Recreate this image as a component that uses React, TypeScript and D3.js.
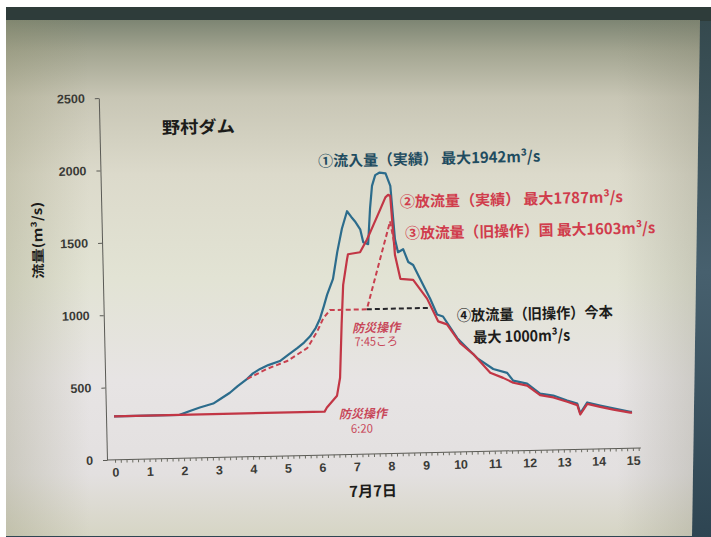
import { useEffect, useRef } from "react";
import * as d3 from "d3";

const W = 711;
const H = 537;

// 7月7日 hours and flow (m3/s)
const inflowHours = [0, 1.9, 2.2, 2.49, 2.88, 3.1, 3.37, 3.6, 3.88, 4.05, 4.26, 4.5, 4.84, 5.1, 5.35, 5.55, 5.73, 5.9, 6.03, 6.15, 6.25, 6.43, 6.57, 6.72, 6.88, 7.0, 7.1, 7.25, 7.33, 7.47, 7.55, 7.62, 7.72, 7.85, 8.02, 8.15, 8.25, 8.33, 8.48, 8.62, 8.76, 8.95, 9.23, 9.42, 9.59, 9.99, 10.35, 10.55, 11.01, 11.41, 11.58, 11.98, 12.35, 12.73, 13.13, 13.42, 13.5, 13.71, 14.08, 14.46, 14.95, 15.0];
const inflowValues = [300, 300, 325, 348, 373, 405, 445, 490, 538, 575, 605, 630, 656, 700, 742, 780, 822, 880, 944, 1030, 1107, 1215, 1399, 1560, 1680, 1640, 1610, 1553, 1463, 1449, 1700, 1851, 1925, 1942, 1935, 1848, 1479, 1389, 1409, 1320, 1298, 1202, 1063, 953, 938, 786, 695, 646, 568, 539, 484, 461, 391, 375, 339, 316, 248, 322, 299, 277, 250, 250];

const outflowHours = [0, 6.1, 6.17, 6.47, 6.57, 6.65, 6.72, 6.85, 6.88, 7.23, 7.44, 7.63, 7.84, 8.0, 8.08, 8.14, 8.18, 8.24, 8.38, 8.75, 9.14, 9.45, 9.7, 10.07, 10.44, 10.92, 11.29, 11.58, 11.98, 12.35, 12.73, 13.13, 13.42, 13.5, 13.71, 14.08, 14.46, 14.95, 15.0];
const outflowValues = [300, 300, 328, 408, 531, 900, 1172, 1349, 1383, 1395, 1482, 1578, 1686, 1770, 1787, 1780, 1615, 1370, 1205, 1196, 1064, 905, 883, 751, 674, 542, 505, 470, 448, 380, 362, 330, 305, 240, 312, 290, 268, 245, 245];

// ③ 旧操作(国)
const kuniHours = [3.88, 4.46, 5.05, 5.64, 5.94, 6.12, 6.32, 7.39, 8.12, 8.27];
const kuniValues = [538, 604, 655, 741, 855, 943, 1000, 1000, 1603, 1390];

// ④ 旧操作(今本)
const imamotoHours = [7.39, 9.18];
const imamotoValues = [1000, 1000];

const xTicks = d3.range(0, 16);
const xMinorTicks = d3.range(0, 15 * 6 + 2).map((i) => i / 6);
const yTicks = [0, 500, 1000, 1500, 2000, 2500];

const JP = "'Noto Sans CJK JP', 'Noto Sans', sans-serif";

const App = () => {
  const ref = useRef(null);

  useEffect(() => {
    const svg = d3.select(ref.current);
    svg.selectAll("*").remove();

    const defs = svg.append("defs");
    const bg = defs.append("linearGradient").attr("id", "bg").attr("x1", 0).attr("y1", 0).attr("x2", 0).attr("y2", 1);
    [
      [0, "#7d8573"],
      [0.06, "#a3a591"],
      [0.15, "#c8c6b5"],
      [0.3, "#dcdacb"],
      [0.5, "#e2e3d4"],
      [0.7, "#e7e4e4"],
      [0.88, "#e3e0e0"],
      [1, "#d6d5c4"],
    ].forEach(([o, c]) => bg.append("stop").attr("offset", o).attr("stop-color", c));

    const side = defs.append("linearGradient").attr("id", "side").attr("x1", 0).attr("y1", 0).attr("x2", 1).attr("y2", 0);
    side.append("stop").attr("offset", 0).attr("stop-color", "#8c8c68").attr("stop-opacity", 0.28);
    side.append("stop").attr("offset", 0.12).attr("stop-color", "#8c8c68").attr("stop-opacity", 0);
    side.append("stop").attr("offset", 0.88).attr("stop-color", "#7a7a66").attr("stop-opacity", 0);
    side.append("stop").attr("offset", 1).attr("stop-color", "#7a7a66").attr("stop-opacity", 0.25);

    const bar = defs.append("linearGradient").attr("id", "bar").attr("x1", 0).attr("y1", 0).attr("x2", 0).attr("y2", 1);
    bar.append("stop").attr("offset", 0).attr("stop-color", "#34484c");
    bar.append("stop").attr("offset", 0.5).attr("stop-color", "#47606e");
    bar.append("stop").attr("offset", 1).attr("stop-color", "#2e4552");

    // photo frame
    svg.append("rect").attr("width", W).attr("height", H).attr("fill", "#ffffff");
    svg.append("rect").attr("x", 6).attr("y", 7).attr("width", W - 6).attr("height", H - 7).attr("fill", "url(#bar)");
    svg.append("rect").attr("x", 6).attr("y", 7).attr("width", W - 6).attr("height", 14).attr("fill", "#2e3c3a");
    const slide = "M6,20 L700,20 L692,536 L6,536 Z";
    svg.append("path").attr("d", slide).attr("fill", "url(#bg)");
    svg.append("path").attr("d", slide).attr("fill", "url(#side)");

    // chart (photo is slightly tilted)
    const ox = 107;
    const oy = 460;
    const g = svg.append("g").attr("transform", `rotate(-1.3, ${ox}, ${oy})`);

    const x = d3.scaleLinear().domain([0, 15]).range([115, 633]);
    const y = d3.scaleLinear().domain([0, 2500]).range([oy, 98]);

    // y axis
    const yAxis = g
      .append("g")
      .attr("transform", `translate(${ox},0)`)
      .call(
        d3
          .axisLeft(y)
          .tickValues(yTicks)
          .tickSize(4)
          .tickSizeOuter(0)
          .tickPadding(10)
          .tickFormat(d3.format("d"))
      );
    yAxis.select(".domain").attr("stroke", "#5a5a55");
    yAxis.selectAll(".tick line").attr("stroke", "#5a5a55");
    yAxis
      .selectAll("text")
      .attr("fill", "#3a3a36")
      .style("font-family", "'Liberation Sans', Arial, sans-serif")
      .style("font-weight", "bold")
      .style("font-size", "12.5px");

    // x axis
    g.append("line")
      .attr("x1", ox)
      .attr("x2", x(15.23))
      .attr("y1", oy)
      .attr("y2", oy)
      .attr("stroke", "#5a5a55");
    const xMinor = g
      .append("g")
      .attr("transform", `translate(0,${oy})`)
      .call(d3.axisBottom(x).tickValues(xMinorTicks).tickSize(3).tickFormat(() => ""));
    xMinor.select(".domain").remove();
    xMinor.selectAll(".tick line").attr("stroke", "#6a6a60");

    const xAxis = g
      .append("g")
      .attr("transform", `translate(0,${oy})`)
      .call(d3.axisBottom(x).tickValues(xTicks).tickSize(0).tickPadding(8).tickFormat(d3.format("d")));
    xAxis.select(".domain").remove();
    xAxis
      .selectAll("text")
      .attr("fill", "#3a3a36")
      .style("font-family", "'Liberation Sans', Arial, sans-serif")
      .style("font-weight", "bold")
      .style("font-size", "12.5px");

    // series
    const line = d3
      .line<[number, number]>()
      .x((d) => x(d[0]))
      .y((d) => y(d[1]));

    g.append("path")
      .datum(d3.zip(inflowHours, inflowValues))
      .attr("fill", "none")
      .attr("stroke", "#2c6c8c")
      .attr("stroke-width", 2.2)
      .attr("stroke-linejoin", "round")
      .attr("d", line);

    g.append("path")
      .datum(d3.zip(outflowHours, outflowValues))
      .attr("fill", "none")
      .attr("stroke", "#c23645")
      .attr("stroke-width", 2.2)
      .attr("stroke-linejoin", "round")
      .attr("d", line);

    g.append("path")
      .datum(d3.zip(kuniHours, kuniValues))
      .attr("fill", "none")
      .attr("stroke", "#c8404f")
      .attr("stroke-width", 2)
      .attr("stroke-dasharray", "5,3")
      .attr("d", line);

    g.append("path")
      .datum(d3.zip(imamotoHours, imamotoValues))
      .attr("fill", "none")
      .attr("stroke", "#26262a")
      .attr("stroke-width", 2)
      .attr("stroke-dasharray", "5,3")
      .attr("d", line);

    // texts
    const label = (
      txt: string,
      h: number,
      v: number,
      opts: { size: number; fill: string; len: number; anchor?: string; italic?: boolean; weight?: string }
    ) =>
      g
        .append("text")
        .attr("x", x(h))
        .attr("y", y(v))
        .attr("text-anchor", opts.anchor || "start")
        .attr("dominant-baseline", "central")
        .attr("textLength", opts.len)
        .attr("lengthAdjust", "spacingAndGlyphs")
        .attr("fill", opts.fill)
        .style("font-family", JP)
        .style("font-weight", opts.weight || "bold")
        .style("font-style", opts.italic ? "italic" : "normal")
        .style("font-size", `${opts.size}px`)
        .text(txt);

    label("野村ダム", 2.63, 2294, { size: 17, fill: "#1c1c1a", len: 73, anchor: "middle" });
    label("①流入量（実績） 最大1942m³/s", 6.08, 2037, { size: 15, fill: "#1f4c60", len: 222 });
    label("②放流量（実績） 最大1787m³/s", 8.42, 1744, { size: 15, fill: "#d03c4c", len: 223 });
    label("③放流量（旧操作）国 最大1603m³/s", 8.55, 1525, { size: 15, fill: "#d03c4c", len: 250 });
    label("④放流量（旧操作）今本", 9.99, 950, { size: 15, fill: "#1c1c1a", len: 156 });
    label("最大 1000m³/s", 10.45, 797, { size: 15, fill: "#1c1c1a", len: 97 });
    label("防災操作", 7.65, 880, { size: 12, fill: "#c8485a", len: 48, anchor: "middle", italic: true });
    label("7:45ころ", 7.64, 785, { size: 12, fill: "#c8485a", len: 43, anchor: "middle", weight: "normal" });
    label("防災操作", 7.21, 288, { size: 12, fill: "#c8485a", len: 48, anchor: "middle", italic: true });
    label("6:20", 7.17, 186, { size: 12, fill: "#c8485a", len: 22, anchor: "middle", weight: "normal" });

    g.append("text")
      .attr("transform", `translate(${ox - 65},${y(1527)}) rotate(-90)`)
      .attr("text-anchor", "middle")
      .attr("dominant-baseline", "central")
      .attr("textLength", 77)
      .attr("lengthAdjust", "spacingAndGlyphs")
      .attr("fill", "#1c1c1a")
      .style("font-family", JP)
      .style("font-weight", "bold")
      .style("font-size", "13px")
      .text("流量(m³/s)");

    g.append("text")
      .attr("x", x(7.45))
      .attr("y", oy + 36)
      .attr("text-anchor", "middle")
      .attr("dominant-baseline", "central")
      .attr("fill", "#1c1c1a")
      .style("font-family", JP)
      .style("font-weight", "bold")
      .style("font-size", "15px")
      .text("7月7日");
  }, []);

  return (
    <svg
      ref={ref}
      width={W}
      height={H}
      style={{ position: "absolute", left: 0, top: 0, display: "block" }}
    />
  );
};

export default App;
